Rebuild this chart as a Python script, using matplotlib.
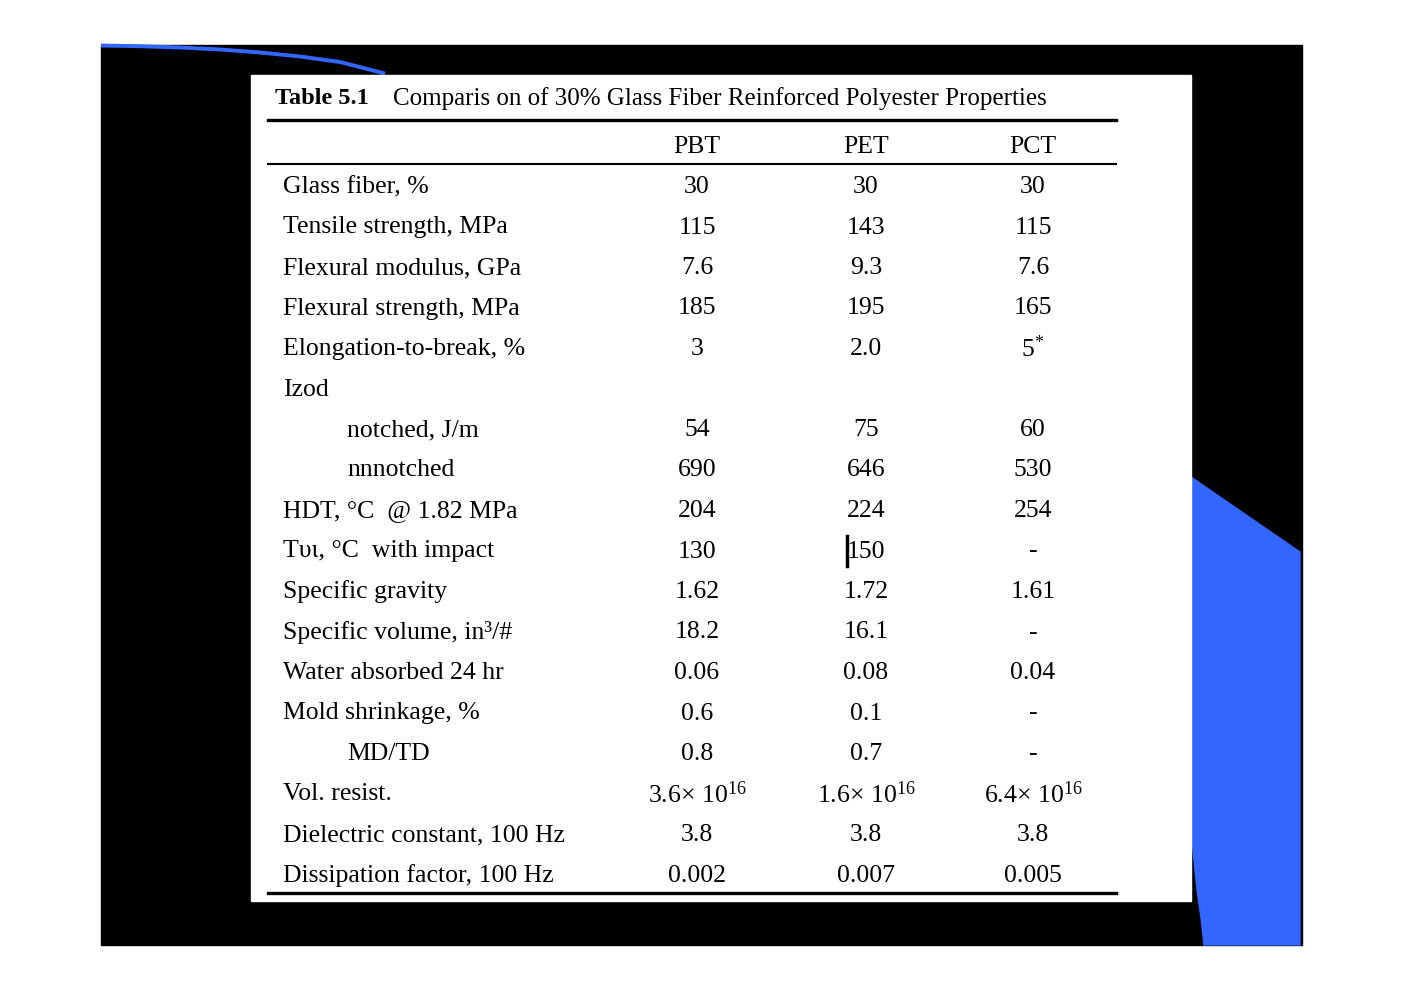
import matplotlib.pyplot as plt
from matplotlib.patches import Rectangle, Polygon

plt.rcParams['font.family'] = ['Liberation Serif', 'DejaVu Serif']
plt.rcParams['mathtext.fontset'] = 'custom'
plt.rcParams['mathtext.rm'] = 'Liberation Serif'
plt.rcParams['mathtext.it'] = 'Liberation Serif'

# table content
title_bold = 'Table 5.1'
title_rest = 'Comparis on of 30% Glass Fiber Reinforced Polyester Properties'
columns = ['PBT', 'PET', 'PCT']
labels = ['Glass fiber, %', 'Tensile strength, MPa', 'Flexural modulus, GPa',
          'Flexural strength, MPa', 'Elongation-to-break, %', 'Izod',
          'notched, J/m', 'nnnotched', 'HDT, °C  @ 1.82 MPa',
          'Tυι, °C  with impact', 'Specific gravity', 'Specific volume, in³/#',
          'Water absorbed 24 hr', 'Mold shrinkage, %', 'MD/TD', 'Vol. resist.',
          'Dielectric constant, 100 Hz', 'Dissipation factor, 100 Hz']
indented = ['notched, J/m', 'nnnotched', 'MD/TD']
pbt = ['30', '115', '7.6', '185', '3', '', '54', '690', '204', '130', '1.62',
       '18.2', '0.06', '0.6', '0.8', r'3.6$\times$ 10$^{16}$', '3.8', '0.002']
pet = ['30', '143', '9.3', '195', '2.0', '', '75', '646', '224', '150', '1.72',
       '16.1', '0.08', '0.1', '0.7', r'1.6$\times$ 10$^{16}$', '3.8', '0.007']
pct = ['30', '115', '7.6', '165', r'5$^{*}$', '', '60', '530', '254', '-', '1.61',
       '-', '0.04', '-', '-', r'6.4$\times$ 10$^{16}$', '3.8', '0.005']

blue = '#3366ff'
fig = plt.figure(figsize=(14.03, 9.92), dpi=100)
ax = fig.add_axes([0, 0, 1, 1])
ax.set_xlim(0, 1403)
ax.set_ylim(992, 0)
ax.axis('off')

# slide background
ax.add_patch(Rectangle((101, 45), 1201, 900, color='black', zorder=0))
ax.add_patch(Polygon([(1191, 477), (1300, 552), (1300, 945), (1204, 945),
                      (1201, 918), (1197, 890), (1194, 860), (1191, 830)],
                     closed=True, color=blue, zorder=1))
ax.plot([101, 140, 180, 220, 260, 300, 340, 385],
        [45.5, 46.2, 47.5, 49.5, 52.5, 56.5, 62, 73.5],
        color=blue, lw=2.8, solid_capstyle='butt', zorder=1)

# white table panel
ax.add_patch(Rectangle((251, 75), 940, 826, color='white', zorder=2))

ax.text(275, 99, title_bold, fontsize=17.5, fontweight='bold', va='center', zorder=3)
ax.text(393, 99, title_rest, fontsize=18, va='center', zorder=3)

ax.plot([268, 1116], [120, 120], color='black', lw=2.4, zorder=3)
ax.plot([268, 1116], [164, 164], color='black', lw=1.5, zorder=3)
ax.plot([268, 1116], [893, 893], color='black', lw=2.4, zorder=3)

col_x = [697, 866, 1033]
for cx, name in zip(col_x, columns):
    ax.text(cx, 147, name, fontsize=18.5, ha='center', va='center', zorder=3)

y0, step = 187, 40.5
for i, lab in enumerate(labels):
    y = y0 + i * step
    x = 347 if lab in indented else 283
    ax.text(x, y, lab, fontsize=18.5, va='center', zorder=3)
    for cx, vals in zip(col_x, [pbt, pet, pct]):
        if vals[i]:
            ax.text(cx, y, vals[i], fontsize=18.5, ha='center', va='center', zorder=3)

# cursor mark left of 150
ax.plot([847, 847], [536, 566], color='black', lw=2.5, zorder=3)

fig.savefig('out.png', dpi=100)
